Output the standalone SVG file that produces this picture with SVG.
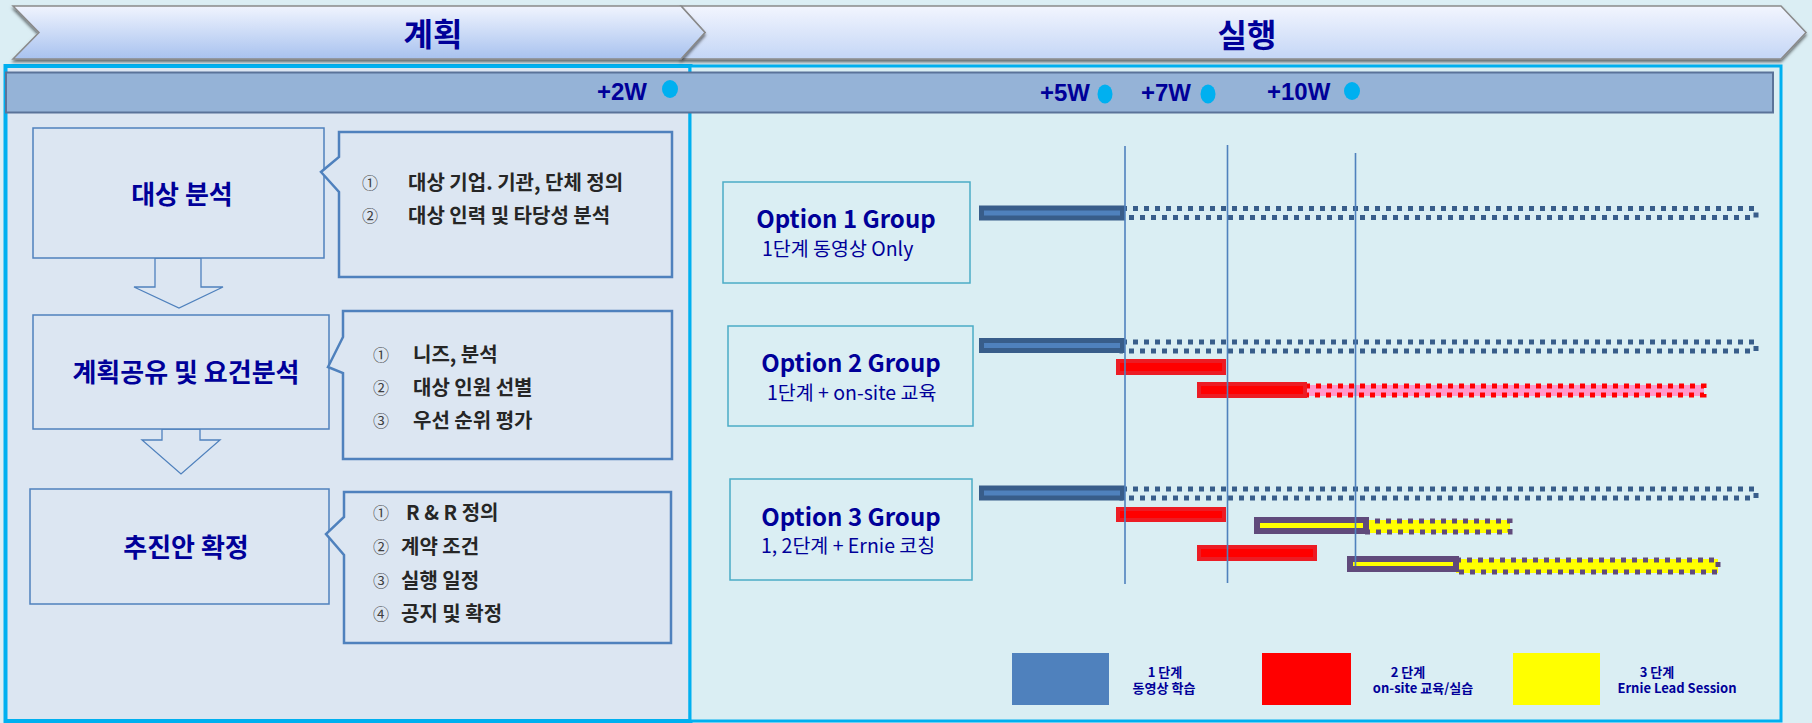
<svg xmlns="http://www.w3.org/2000/svg" width="1812" height="723" viewBox="0 0 1812 723">
<defs>
<linearGradient id="g1" x1="0" y1="0" x2="0" y2="1"><stop offset="0" stop-color="#f0f4fe"/><stop offset="1" stop-color="#a8c2ef"/></linearGradient>
<linearGradient id="g2" x1="0" y1="0" x2="0" y2="1"><stop offset="0" stop-color="#f2f5fe"/><stop offset="1" stop-color="#c4d6f6"/></linearGradient>
<filter id="sh" x="-5%" y="-20%" width="110%" height="160%"><feDropShadow dx="0" dy="2.5" stdDeviation="1.5" flood-color="#000" flood-opacity="0.55"/></filter>
<style>
.chev{stroke:#8a8a8a;stroke-width:1.5;filter:url(#sh)}
.title{font-family:"Noto Sans CJK KR","Liberation Sans",sans-serif;font-weight:bold;font-size:32px;fill:#000099;text-anchor:middle}
.wk{font-family:"Liberation Sans","Noto Sans CJK KR",sans-serif;font-weight:bold;font-size:24px;fill:#000099}
.dot{fill:#00b0f0}
.box{fill:#dce6f2;stroke:#4f81bd;stroke-width:1.5}
.call{fill:#dce6f2;stroke:#4f81bd;stroke-width:2.5}
.arrow{fill:#dce6f2;stroke:#4f81bd;stroke-width:1.3}
.bt{font-family:"Noto Sans CJK KR","Liberation Sans",sans-serif;font-weight:bold;font-size:26px;fill:#000099;text-anchor:middle}
.ct{font-family:"Noto Sans CJK KR","Liberation Sans",sans-serif;font-weight:bold;font-size:20px;fill:#262626}
.num{font-family:"Noto Sans CJK KR","DejaVu Sans",sans-serif;font-size:16px;fill:#404040}
.obox{fill:none;stroke:#4bacc6;stroke-width:1.5}
.ot{font-family:"Noto Sans CJK KR","Liberation Sans",sans-serif;font-weight:bold;font-size:24px;fill:#000099;text-anchor:middle}
.os{font-family:"Noto Sans CJK KR","Liberation Sans",sans-serif;font-size:19.5px;fill:#000099}
.vl{stroke:#4f81bd;stroke-width:1.6}
.bb{fill:#4f81bd;stroke:#385d8a;stroke-width:5}
.bd{fill:none;stroke:#385d8a;stroke-width:5;stroke-dasharray:5 6}
.rb{fill:#ff0000;stroke:#ec1c24;stroke-width:4}
.rd{fill:none;stroke:#ff0000;stroke-width:5;stroke-dasharray:5 6}
.yb{fill:#ffff00;stroke:#604a7b;stroke-width:6}
.yd{fill:none;stroke:#604a7b;stroke-width:5;stroke-dasharray:5 6}
.lt{font-family:"Noto Sans CJK KR","Liberation Sans",sans-serif;font-weight:bold;font-size:13px;fill:#000099;text-anchor:middle}
</style>
</defs>
<rect x="0" y="0" width="1812" height="723" fill="#dbeef4"/>

<g id="panel-plan">
<rect x="5.5" y="66" width="685" height="655" fill="#dce6f2" stroke="#00b0f0" stroke-width="4"/>
</g>
<g id="panel-exec">
<rect x="690" y="66" width="1091" height="655" fill="#daeef3" stroke="#00b0f0" stroke-width="3"/>
</g>

<g id="chevron-exec">
<polygon class="chev" fill="url(#g2)" points="681,6 1781,6 1806,32.5 1781,59 681,59 705,32.5"/>
<text class="title" x="1247" y="47">실행</text>
</g>
<g id="chevron-plan">
<polygon class="chev" fill="url(#g1)" points="13,6 681,6 705,32.5 681,59 13,59 39,32.5"/>
<text class="title" x="433" y="46">계획</text>
</g>

<g id="timeline-bar">
<rect x="6" y="72.5" width="1767" height="40" fill="#95b3d7" stroke="#5a7399" stroke-width="2"/>
<text class="wk" x="597" y="100">+2W</text>
<ellipse class="dot" cx="670" cy="89" rx="8" ry="9"/>
<text class="wk" x="1040" y="101">+5W</text>
<ellipse class="dot" cx="1105" cy="94" rx="7.5" ry="9.5"/>
<text class="wk" x="1141" y="101">+7W</text>
<ellipse class="dot" cx="1208" cy="94" rx="7.5" ry="9.5"/>
<text class="wk" x="1267" y="100">+10W</text>
<ellipse class="dot" cx="1352" cy="91" rx="8" ry="9"/>
</g>

<g id="connectors">
<polygon class="arrow" points="155,258 201,258 201,287 223,287 179,308 134,287 155,287"/>
<polygon class="arrow" points="162,429 200,429 200,440 220,440 181,474 142,440 162,440"/>
</g>

<g id="step1">
<rect class="box" x="33" y="128" width="291" height="130"/>
<text class="bt" x="182" y="204">대상 분석</text>
</g>
<g id="step1-detail">
<path class="call" d="M339,132 H672 V277 H339 V192 L321,172 L339,157 Z"/>
<text class="num" x="362" y="189">①</text>
<text class="ct" x="408" y="190">대상 기업. 기관, 단체 정의</text>
<text class="num" x="362" y="222">②</text>
<text class="ct" x="408" y="223">대상 인력 및 타당성 분석</text>
</g>

<g id="step2">
<rect class="box" x="33" y="315" width="296" height="114"/>
<text class="bt" x="186" y="382">계획공유 및 요건분석</text>
</g>
<g id="step2-detail">
<path class="call" d="M343,311 H672 V459 H343 V373 L328,367 L343,337 Z"/>
<text class="num" x="373" y="361">①</text>
<text class="ct" x="413" y="362">니즈, 분석</text>
<text class="num" x="373" y="394">②</text>
<text class="ct" x="413" y="395">대상 인원 선별</text>
<text class="num" x="373" y="427">③</text>
<text class="ct" x="413" y="428">우선 순위 평가</text>
</g>

<g id="step3">
<rect class="box" x="30" y="489" width="299" height="115"/>
<text class="bt" x="186" y="557">추진안 확정</text>
</g>
<g id="step3-detail">
<path class="call" d="M344,492 H671 V643 H344 V555 L326,534 L344,517 Z"/>
<text class="num" x="373" y="519">①</text>
<text class="ct" x="406" y="520">R &amp; R 정의</text>
<text class="num" x="373" y="553">②</text>
<text class="ct" x="401" y="554">계약 조건</text>
<text class="num" x="373" y="587">③</text>
<text class="ct" x="401" y="588">실행 일정</text>
<text class="num" x="373" y="620">④</text>
<text class="ct" x="401" y="621">공지 및 확정</text>
</g>

<g id="option1">
<rect class="obox" x="723" y="182" width="247" height="101"/>
<text class="ot" x="846" y="228">Option 1 Group</text>
<text class="os" x="762" y="256">1단계 동영상 Only</text>
</g>
<g id="option2">
<rect class="obox" x="728" y="326" width="245" height="100"/>
<text class="ot" x="851" y="372">Option 2 Group</text>
<text class="os" x="767" y="400">1단계 + on-site 교육</text>
</g>
<g id="option3">
<rect class="obox" x="730" y="479" width="242" height="101"/>
<text class="ot" x="851" y="526">Option 3 Group</text>
<text class="os" x="761" y="553">1, 2단계 + Ernie 코칭</text>
</g>

<g id="bars">
<rect class="bd" x="1122" y="208.5" width="634" height="9"/>
<rect class="bb" x="981.5" y="208" width="141" height="10"/>

<rect class="bd" x="1122" y="342" width="634" height="9"/>
<rect class="bb" x="981.5" y="340.5" width="141" height="10"/>
<rect class="rb" x="1118" y="361" width="106" height="12"/>
<rect x="1305" y="385" width="399" height="11" fill="#ff99cc"/>
<rect class="rd" x="1305" y="386" width="399" height="9"/>
<rect class="rb" x="1199" y="384" width="106" height="12"/>

<rect class="bd" x="1122" y="489" width="634" height="9"/>
<rect class="bb" x="981.5" y="488" width="141" height="10"/>
<rect class="rb" x="1118" y="509" width="106" height="11"/>
<rect x="1364" y="520" width="146" height="13" fill="#ffff00"/>
<rect class="yd" x="1364" y="521" width="146" height="11"/>
<rect class="yb" x="1257" y="520" width="109" height="11"/>
<rect class="rb" x="1199" y="547" width="116" height="12"/>
<rect x="1456" y="559" width="262" height="14" fill="#ffff00"/>
<rect class="yd" x="1456" y="560" width="262" height="12"/>
<rect class="yb" x="1350" y="559" width="106" height="10"/>
</g>

<g id="milestone-lines">
<line class="vl" x1="1125" y1="146" x2="1125" y2="584"/>
<line class="vl" x1="1227.5" y1="145" x2="1227.5" y2="583"/>
<line class="vl" x1="1355.5" y1="153" x2="1355.5" y2="566"/>
</g>

<g id="legend">
<rect x="1012" y="653" width="97" height="52" fill="#4f81bd"/>
<text class="lt" x="1165" y="677">1 단계</text>
<text class="lt" x="1164" y="693">동영상 학습</text>
<rect x="1262" y="653" width="89" height="52" fill="#ff0000"/>
<text class="lt" x="1408" y="677">2 단계</text>
<text class="lt" x="1423" y="693">on-site 교육/실습</text>
<rect x="1513" y="653" width="87" height="52" fill="#ffff00"/>
<text class="lt" x="1657" y="677">3 단계</text>
<text class="lt" x="1677" y="693">Ernie Lead Session</text>
</g>
</svg>
